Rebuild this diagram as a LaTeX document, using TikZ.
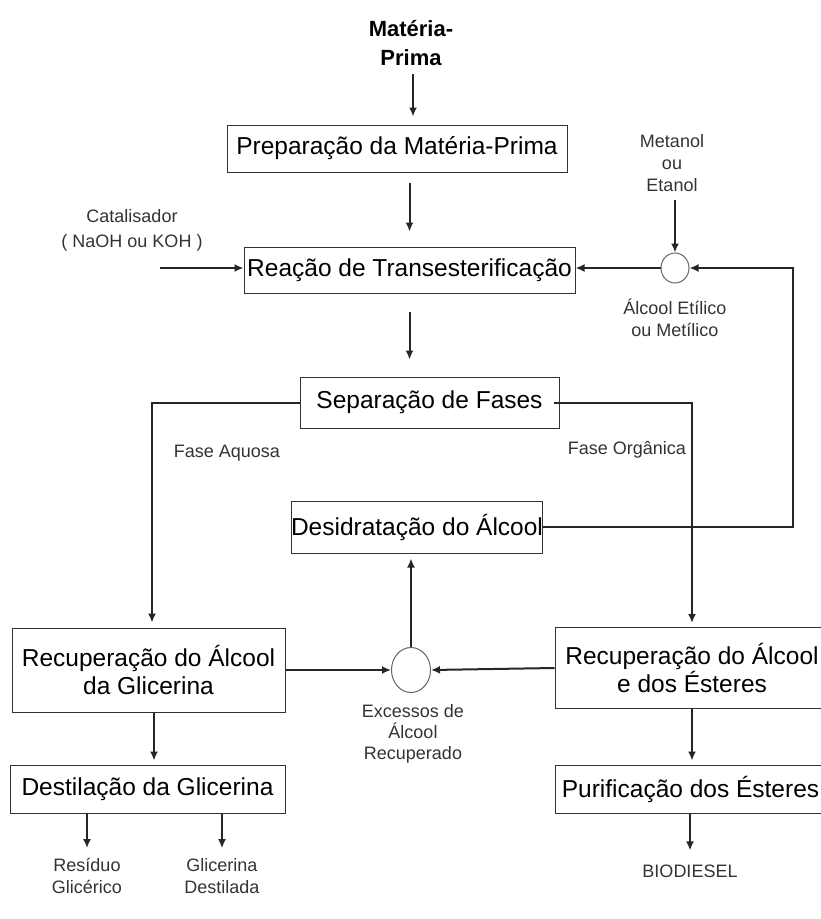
\documentclass[tikz,border=0pt]{standalone}
\usepackage{fontspec}
\setmainfont{Liberation Sans}
\usetikzlibrary{arrows.meta,shapes.geometric,calc}
\begin{document}
\begin{tikzpicture}[x=1pt,y=-1pt,
  box/.style={draw=black!80, line width=1pt, fill=white, inner sep=0pt, align=center, font=\fontsize{24.5}{28}\selectfont},
  lbl/.style={inner sep=0pt, align=center, text=black!80, font=\fontsize{18}{22}\selectfont},
  ln/.style={line width=2pt, draw=black!85},
  arr/.style={ln, -{Latex[length=9pt,width=8pt]}},
  junc/.style={ellipse, draw=black!60, line width=1pt, fill=white, inner sep=0pt}
]
\useasboundingbox (0,0) rectangle (821,919);
\clip (0,0) rectangle (821,919);

% nodes
\node[inner sep=0pt, align=center, font=\bfseries\fontsize{22}{29}\selectfont] (mp) at (411,43) {Matéria-\\Prima};
\node[box, minimum width=340pt, minimum height=47pt] (prep) at (397,148.5) {Preparação da Matéria-Prima};
\node[box, minimum width=331pt, minimum height=46pt] (reac) at (409.5,270) {Reação de Transesterificação};
\node[box, minimum width=259pt, minimum height=51pt] (sep) at (429.5,402.5) {Separação de Fases};
\node[box, minimum width=250pt, minimum height=52pt] (desi) at (417,527) {Desidratação do Álcool};
\node[box, minimum width=273pt, minimum height=84pt] (recg) at (148.5,670) {Recuperação do Álcool\\da Glicerina};
\node[box, minimum width=274pt, minimum height=81pt] (rece) at (692,668) {Recuperação do Álcool\\e dos Ésteres};
\node[box, minimum width=275pt, minimum height=48pt] (dest) at (147.5,789) {Destilação da Glicerina};
\node[box, minimum width=271pt, minimum height=48pt] (puri) at (690.5,789) {Purificação dos Ésteres};

\node[junc, minimum width=28pt, minimum height=30pt] (c1) at (675,268) {};
\node[junc, minimum width=39pt, minimum height=45pt] (c2) at (411,670) {};

\node[lbl, font=\fontsize{18}{25}\selectfont] (cat) at (132,230) {Catalisador\\( NaOH ou KOH )};
\node[lbl] (met) at (672,163) {Metanol\\ou\\Etanol};
\node[lbl] (alc) at (675,318) {Álcool Etílico\\ou Metílico};
\node[lbl] (faq) at (227,453) {Fase Aquosa};
\node[lbl] (forg) at (627,450) {Fase Orgânica};
\node[lbl, font=\fontsize{18}{21}\selectfont] (exc) at (413,734) {Excessos de\\Álcool\\Recuperado};
\node[lbl] (res) at (87,876) {Resíduo\\Glicérico};
\node[lbl] (gd) at (222,876) {Glicerina\\Destilada};
\node[lbl] (bio) at (690,871) {BIODIESEL};

\coordinate (catin) at (160,268);
\coordinate (rt) at (793,268);
\coordinate (lt) at (152,405);
\coordinate (rtt) at (692,405);

% connectors
\draw[arr, shorten <=8pt, shorten >=8pt] (mp.south -| 413,0) -- (prep.north -| 413,0);
\draw[arr, shorten <=10pt, shorten >=15pt] (prep.south -| reac.north) -- (reac.north);
\draw[arr, shorten <=18pt, shorten >=17pt] (reac.south) -- (reac.south |- sep.north);
\draw[arr] (catin) -- (catin -| reac.west);
\draw[arr, shorten <=8pt] (met.south -| c1.north) -- (c1.north);
\draw[arr] (c1.west) -- (c1.west -| reac.east);
\draw[arr] (desi.east) -| (rt) -- (c1.east);
\draw[arr, shorten >=5pt] (sep.west) -- (sep.west -| lt) -- (lt |- recg.north);
\draw[arr, shorten >=4pt] ([xshift=-6pt]sep.east) -- (sep.east -| rtt) -- (rtt |- rece.north);
\draw[arr] (recg.east) -- (c2.west);
\draw[arr] (rece.west) -- (c2.east);
\draw[arr, shorten >=5pt] (c2.north) -- (c2.north |- desi.south);
\draw[arr, shorten >=4pt] ([xshift=5.5pt]recg.south) -- ([xshift=5.5pt]recg.south |- dest.north);
\draw[arr, shorten >=4pt] (rece.south) -- (rece.south |- puri.north);
\draw[arr, shorten >=10pt] (res.north |- dest.south) -- (res.north);
\draw[arr, shorten >=10pt] (gd.north |- dest.south) -- (gd.north);
\draw[arr, shorten >=14pt] (bio.north |- puri.south) -- (bio.north);
\end{tikzpicture}
\end{document}
